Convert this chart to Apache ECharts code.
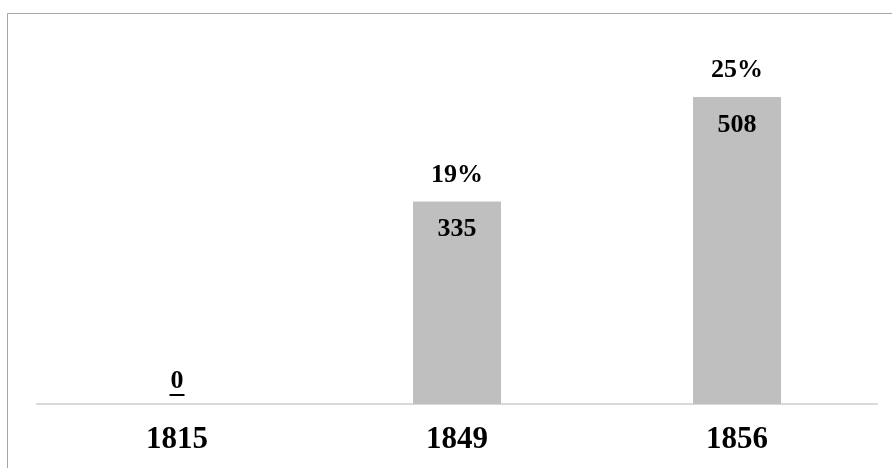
<!DOCTYPE html>
<html>
<head>
<meta charset="utf-8">
<script src="https://cdn.jsdelivr.net/npm/echarts@6/dist/echarts.min.js"></script>
<style>
  html, body { margin: 0; padding: 0; background: #fff; }
  #chart { width: 892px; height: 468px; }
</style>
</head>
<body>
<div id="chart"></div>
<script>
const years = ['1815', '1849', '1856']
const counts = [0, 335, 508]
const shares = ['', '19%', '25%']

const serif = '"Liberation Serif", "Times New Roman", serif'

const barData = counts.map(function (v, i) {
  if (v === 0) {
    return {
      value: v,
      label: {
        position: 'top',
        distance: 8,
        formatter: '{u|' + v + '}'
      }
    }
  }
  return v
})

const chart = echarts.init(document.getElementById('chart'))
chart.setOption({
  animation: false,
  graphic: [{
    type: 'rect',
    silent: true,
    shape: { x: 7.5, y: 13.5, width: 1000, height: 1000 },
    style: { fill: 'none', stroke: '#a6a6a6', lineWidth: 1 }
  }],
  grid: { left: 37, right: 15, top: 41.4, bottom: 64 },
  xAxis: {
    type: 'category',
    data: years,
    axisTick: { show: false },
    axisLine: { lineStyle: { color: '#d9d9d9', width: 2 } },
    axisLabel: {
      margin: 20,
      color: '#000',
      fontFamily: serif,
      fontWeight: 'bold',
      fontSize: 31
    }
  },
  yAxis: {
    type: 'value',
    min: 0,
    max: 600,
    show: false,
    splitLine: { show: false }
  },
  series: [
    {
      type: 'bar',
      data: barData,
      barWidth: 88,
      itemStyle: { color: '#bfbfbf' },
      label: {
        show: true,
        position: 'insideTop',
        distance: 15,
        color: '#000',
        fontFamily: serif,
        fontWeight: 'bold',
        fontSize: 26,
        rich: {
          u: {
            color: '#000',
            fontFamily: serif,
            fontWeight: 'bold',
            fontSize: 26,
            padding: [0, 1, 2, 1],
            backgroundColor: {
              type: 'linear', x: 0, y: 0, x2: 0, y2: 1,
              colorStops: [
                { offset: 0, color: 'rgba(0,0,0,0)' },
                { offset: 0.93, color: 'rgba(0,0,0,0)' },
                { offset: 0.93, color: '#000' },
                { offset: 1, color: '#000' }
              ]
            }
          }
        }
      }
    },
    {
      type: 'scatter',
      data: counts,
      symbolSize: 1,
      itemStyle: { color: '#fff', opacity: 0 },
      silent: true,
      label: {
        show: true,
        position: 'top',
        distance: 13,
        color: '#000',
        opacity: 1,
        textBorderWidth: 0,
        fontFamily: serif,
        fontWeight: 'bold',
        fontSize: 26,
        formatter: function (p) { return shares[p.dataIndex] }
      }
    }
  ]
})
</script>
</body>
</html>
